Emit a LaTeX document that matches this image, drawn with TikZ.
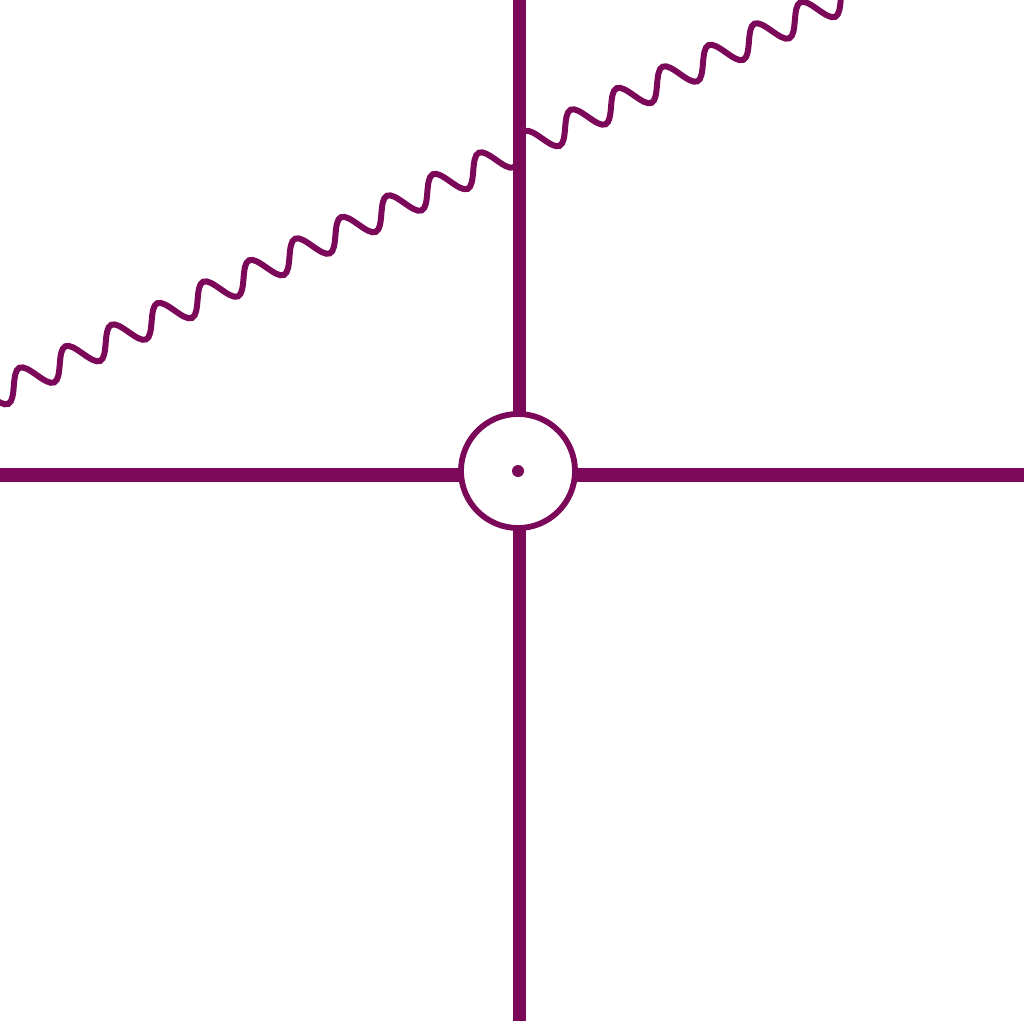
\documentclass[tikz,border=0pt]{standalone}
\usetikzlibrary{decorations.pathmorphing}
\definecolor{plum}{RGB}{124,8,90}
\begin{document}
\begin{tikzpicture}[x=0.01cm,y=-0.01cm]
\tikzset{axisline/.style={plum,line width=0.135cm},
  vertexring/.style={circle,draw=plum,line width=0.058cm,minimum size=1.14cm,inner sep=0pt,outer sep=0pt},
  wave/.style={plum,line width=0.06cm,decorate,
    decoration={snake,amplitude=0.14cm,segment length=0.507cm}}}
\useasboundingbox (0,0) rectangle (1024,1024);
\clip (0,0) rectangle (1024,1024);
\node[vertexring] (vertex) at (518,471) {};
\fill[plum] (vertex.center) circle (0.06cm);
\coordinate (north end) at (519.5,-5);
\coordinate (south end) at (519.5,1021);
\coordinate (west end) at (-5,475);
\coordinate (east end) at (1030,475);
\draw[axisline] (north end) -- (vertex.north -| north end);
\draw[axisline] (vertex.south -| south end) -- (south end);
\draw[axisline] (west end) -- (vertex.west |- west end);
\draw[axisline] (vertex.east |- east end) -- (east end);
\coordinate (wave start) at (-35,408.7);
\coordinate (wave end) at (900,-29);
\draw[wave] (wave start) -- (wave end);
\end{tikzpicture}
\end{document}
